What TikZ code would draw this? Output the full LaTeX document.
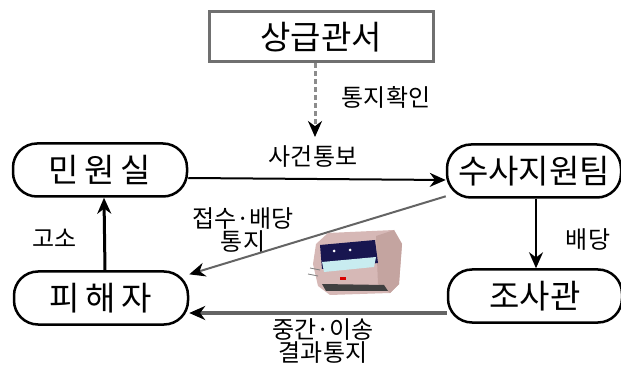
\documentclass[tikz,border=0pt]{standalone}
\usepackage{fontspec}
\setmainfont{Noto Sans CJK KR}
\usetikzlibrary{arrows.meta}

\definecolor{boxgray}{RGB}{112,112,112}
\definecolor{dashgray}{RGB}{140,140,140}
\definecolor{linegray}{RGB}{100,100,100}
\definecolor{printerbody}{RGB}{214,184,182}
\definecolor{printerside}{RGB}{196,164,160}
\definecolor{printerslot}{RGB}{24,22,80}
\definecolor{printerpaper}{RGB}{200,236,240}

\begin{document}
\begin{tikzpicture}[x=1pt,y=-1pt,thick,
    >={Stealth[length=16pt,width=14pt,color=black]},
    office node/.style={draw=boxgray,line width=3pt,fill=white,minimum width=224pt,minimum height=50pt,font=\fontsize{33}{33}\selectfont},
    main node/.style={draw,line width=2.5pt,rounded corners=24pt,minimum width=174pt,minimum height=53pt,font=\fontsize{33}{33}\selectfont},
    label node/.style={font=\fontsize{24}{21}\selectfont,align=center,inner sep=0pt}]
    \useasboundingbox (0,0) rectangle (621,371);

    \node [office node] (office) at (321,37) {상급관서};
    \node [main node] (civil) at (100,170) {민\,원\,실};
    \node [main node] (victim) at (101,298) {피\,해\,자};
    \node [main node, inner sep=2pt] (support) at (534,171) {수사지원팀};
    \node [main node] (officer) at (535,296) {조사관};
    \coordinate (notice) at (315,137);

    \node [label node] (confirm) at (386,97) {통지확인};
    \node [label node] (report) at (313,157) {사건통보};
    \node [label node] (complaint) at (55,238) {고소};
    \node [label node] (assign) at (588,240) {배당};
    \node [label node] (receipt) at (243,230) {접수·배당\\통지};
    \node [label node] (result) at (323,341) {중간·이송\\결과통지};

    \path [draw=dashgray, line width=3pt, dash pattern=on 5pt off 3pt, ->] (office.south -| notice) -- (notice);
    \path [draw, line width=2pt, ->] ([yshift=-8pt]civil.east) -- ([yshift=-9pt]support.west);
    \path [draw, line width=3pt, ->] ([xshift=4pt]victim.north) -- ([xshift=4pt]civil.south);
    \path [draw, line width=2pt, ->] ([xshift=2pt]support.south) -- ([xshift=1pt]officer.north);
    \path [draw=linegray, line width=2pt, ->] (support.196) -- (victim.15);
    \path [draw=linegray, line width=3pt, ->] ([yshift=-17pt]officer.west) -- ([yshift=-15pt]victim.east);

    % printer between the two lower lines
    \fill [printerbody] (316,244) -- (328,233) -- (394,230) -- (402,244) -- (399,284) -- (390,293) -- (330,295) -- (318,286) -- (313,264) -- cycle;
    \fill [printerside] (376,236) -- (394,230) -- (402,244) -- (399,284) -- (390,293) -- (378,284) -- cycle;
    \fill [printerslot] (320,245) -- (375,240) -- (378,263) -- (322,269) -- cycle;
    \fill [printerpaper] (322,262) -- (376,257) -- (374,267) -- (324,272) -- cycle;
    \fill [black!75] (322,284) -- (384,285) -- (388,291) -- (326,291) -- cycle;
    \fill [white] (334,251) circle (1.5pt) (350,250) circle (1.5pt);
    \fill [red!85!black] (340,277) rectangle (346,280);
    \draw [black!50, line width=0.8pt] (310,268) -- (320,270) (308,274) -- (318,276);
\end{tikzpicture}
\end{document}
